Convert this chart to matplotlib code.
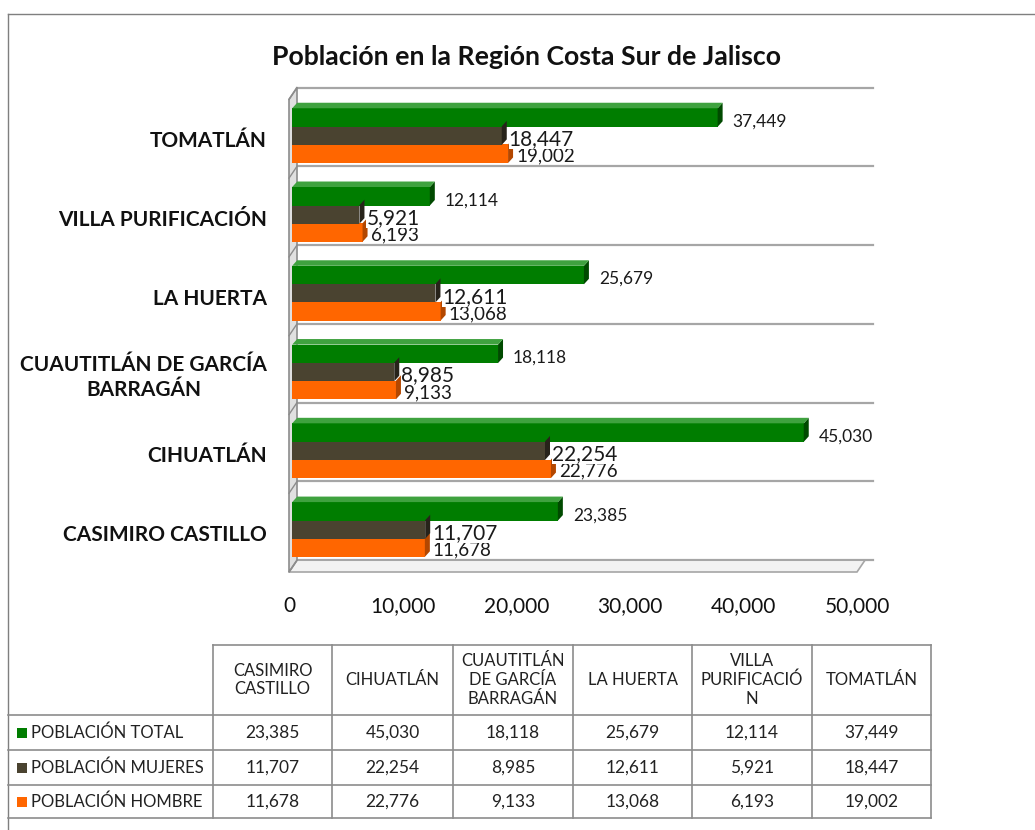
import matplotlib
matplotlib.use("Agg")
import matplotlib.pyplot as plt
from matplotlib.patches import Polygon, Rectangle
from matplotlib.lines import Line2D

plt.rcParams['font.family'] = ['Lato', 'DejaVu Sans']

# ---------------- data ----------------
categories = ["CASIMIRO CASTILLO", "CIHUATLÁN", "CUAUTITLÁN DE GARCÍA\nBARRAGÁN",
              "LA HUERTA", "VILLA PURIFICACIÓN", "TOMATLÁN"]
table_headers = ["CASIMIRO\nCASTILLO", "CIHUATLÁN", "CUAUTITLÁN\nDE GARCÍA\nBARRAGÁN",
                 "LA HUERTA", "VILLA\nPURIFICACIÓ\nN", "TOMATLÁN"]
series_names = ["POBLACIÓN TOTAL", "POBLACIÓN MUJERES", "POBLACIÓN HOMBRE"]
total = [23385, 45030, 18118, 25679, 12114, 37449]
mujeres = [11707, 22254, 8985, 12611, 5921, 18447]
hombre = [11678, 22776, 9133, 13068, 6193, 19002]
x_ticks = [0, 10000, 20000, 30000, 40000, 50000]
title = "Población en la Región Costa Sur de Jalisco"

colors = ["#007D00", "#4A4330", "#FF6600"]
side_colors = ["#004A00", "#27231A", "#B34700"]
top_colors = ["#3FA23F", "#6E6655", "#FF8C40"]

W, H = 1035, 830
fig = plt.figure(figsize=(W / 100, H / 100), dpi=100)

def fx(px):
    return px / W

def fy(py):
    return 1 - py / H

# axes mapped to pixel box
ax_left, ax_right = 289, 873
ax_top, ax_bot = 86, 572
ax = fig.add_axes([fx(ax_left), fy(ax_bot), fx(ax_right) - fx(ax_left), fy(ax_top) - fy(ax_bot)])
xmax = 50000 * (ax_right - ax_left) / (857 - 289)
ax.set_xlim(0, xmax)
ax.set_ylim(-0.57, 5.6)
for s in ax.spines.values():
    s.set_visible(False)
ax.set_yticks([])
ax.set_xticks(x_ticks)
ax.set_xticklabels([f"{t:,}" for t in x_ticks], fontsize=15, color="#111111")
ax.tick_params(axis='x', length=0, pad=17)

# 3D depth offsets in data units
px_x = xmax / (ax_right - ax_left)
ddx = 8 * px_x
ddy = 0.15

grid_c = "#A6A6A6"
# back wall gridlines
for k in range(-1, 6):
    yy = k + 0.58
    ax.plot([ddx, xmax], [yy, yy], color=grid_c, lw=1.6, zorder=1, clip_on=False)
# floor
floor = Polygon([(0, -0.57), (50000, -0.57), (50000 + ddx, -0.57 + ddy), (ddx, -0.57 + ddy)],
                closed=True, facecolor="#F2F2F2", edgecolor=grid_c, lw=1.2, zorder=1, clip_on=False)
ax.add_patch(floor)
# left wall
wall = Polygon([(0, -0.57), (ddx, -0.57 + ddy), (ddx, 5.58), (0, 5.58 - ddy)],
               closed=True, facecolor="#E0E0E0", edgecolor="#8C8C8C", lw=1.2, zorder=2, clip_on=False)
ax.add_patch(wall)
for k in range(-1, 6):
    yy = k + 0.58
    ax.plot([0, ddx], [yy - ddy, yy], color="#8C8C8C", lw=1.0, zorder=2, clip_on=False)

# bars
series = [total, mujeres, hombre]
offsets = [0.23, 0.0, -0.23]
bh = 0.235
sdx = 5 * px_x
sdy = 0.07
x0 = ddx * 0.4
for si in [2, 1, 0]:
    vals = series[si]
    for i, v in enumerate(vals):
        yc = i + offsets[si] - 0.03
        ax.barh(yc, v, height=bh, left=x0, color=colors[si], zorder=5)
        xe = x0 + v
        ax.add_patch(Polygon([(xe, yc - bh / 2), (xe, yc + bh / 2), (xe + sdx, yc + bh / 2 + sdy),
                              (xe + sdx, yc - bh / 2 + sdy)], closed=True,
                             facecolor=side_colors[si], edgecolor='none', zorder=6))
        if si == 0:
            ax.add_patch(Polygon([(x0, yc + bh / 2), (xe, yc + bh / 2), (xe + sdx, yc + bh / 2 + sdy),
                                  (x0 + sdx, yc + bh / 2 + sdy)], closed=True,
                                 facecolor=top_colors[si], edgecolor='none', zorder=6))
# value labels
for i in range(6):
    ax.text(x0 + total[i] + 15 * px_x, i + 0.15, f"{total[i]:,}", fontsize=12.5,
            va='center', ha='left', color="#1a1a1a", zorder=8)
    ax.text(x0 + hombre[i] + 8 * px_x, i - 0.29, f"{hombre[i]:,}", fontsize=13.5,
            va='center', ha='left', color="#1a1a1a", zorder=8)
    ax.text(x0 + mujeres[i] + 7 * px_x, i - 0.075, f"{mujeres[i]:,}", fontsize=15,
            va='center', ha='left', color="#1a1a1a", zorder=9,
            bbox=dict(facecolor='white', edgecolor='none', pad=0.0))

# category labels
for i, c in enumerate(categories):
    ax.text(-22 * px_x, i - 0.1, c, fontsize=15, fontweight='bold', ha='right',
            va='center', multialignment='center', color="#111111", linespacing=1.3)

# title
fig.text(fx(526), fy(57), title, fontsize=19.2, fontweight='bold', ha='center', va='center',
         color="#111111")

# frame
frame_c = "#7F7F7F"
fig.add_artist(Line2D([fx(8), fx(1035)], [fy(14), fy(14)], color=frame_c, lw=1.0))
fig.add_artist(Line2D([fx(8), fx(8)], [fy(14), fy(830)], color=frame_c, lw=1.0))

# data table
tc = "#8C8C8C"
col_x = [213, 332, 453, 573, 692, 812, 931]
row_y = [645, 715, 750, 785, 818]
fig.add_artist(Line2D([fx(213), fx(931)], [fy(645), fy(645)], color=tc, lw=1.2))
for ry in row_y[1:]:
    fig.add_artist(Line2D([fx(8), fx(931)], [fy(ry), fy(ry)], color=tc, lw=1.2))
for cx in col_x:
    fig.add_artist(Line2D([fx(cx), fx(cx)], [fy(645), fy(818)], color=tc, lw=1.2))
for j, h in enumerate(table_headers):
    xc = (col_x[j] + col_x[j + 1]) / 2
    fig.text(fx(xc), fy(680), h, fontsize=12, ha='center', va='center', multialignment='center',
             color="#222222", linespacing=1.2)
for r, (name, vals) in enumerate(zip(series_names, series)):
    yc = (row_y[r + 1] + row_y[r + 2]) / 2
    fig.add_artist(Rectangle((fx(17), fy(yc + 5)), fx(10), 10 / H,
                             transform=fig.transFigure, facecolor=colors[r], edgecolor='none'))
    fig.text(fx(31), fy(yc), name, fontsize=12, ha='left', va='center', color="#222222")
    for j, v in enumerate(vals):
        xc = (col_x[j] + col_x[j + 1]) / 2
        fig.text(fx(xc), fy(yc), f"{v:,}", fontsize=12.5, ha='center', va='center', color="#222222")

fig.savefig("out.png", dpi=100)
